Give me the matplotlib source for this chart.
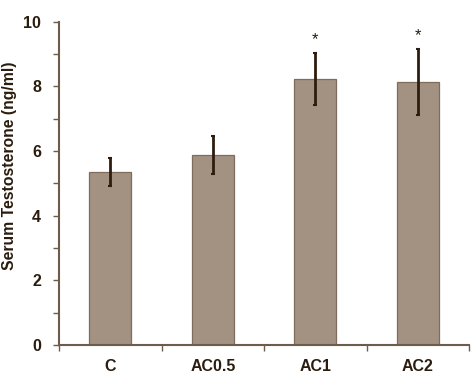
import numpy as np
import matplotlib.pyplot as plt

groups = ['C', 'AC0.5', 'AC1', 'AC2']
means = [5.35, 5.87, 8.23, 8.13]
errors = [0.44, 0.59, 0.80, 1.02]
signif = ['', '', '*', '*']

axis_col = '#6e5c4a'
text_col = '#2a1c0e'

plt.rcParams['font.family'] = ['Liberation Sans', 'DejaVu Sans']

fig = plt.figure(figsize=(4.72, 3.89), dpi=100)
ax = fig.add_axes([0.125, 0.113, 0.869, 0.831])

x = np.arange(len(groups))
ax.bar(x, means, width=0.41, color='#a39282', edgecolor='#7f6c5a', linewidth=0.9, zorder=2)
ax.errorbar(x, means, yerr=errors, fmt='none', ecolor='#2e1d0f', elinewidth=2.0,
            capsize=1.5, capthick=1.5, zorder=3)
for xi, m, e, s in zip(x, means, errors, signif):
    if s:
        ax.text(xi, m + e + 0.42, s, ha='center', va='center', fontsize=12, color=text_col)

ax.set_xlim(-0.5, len(groups) - 0.5)
ax.set_ylim(0, 10)
ax.set_yticks([0, 2, 4, 6, 8, 10])
ax.set_yticks([1, 3, 5, 7, 9], minor=True)
ax.set_xticks(x)
ax.set_xticklabels(groups)
ax.set_xticks(np.arange(len(groups) + 1) - 0.5, minor=True)
ax.tick_params(axis='x', which='major', length=0, pad=10, labelsize=11.5, labelcolor=text_col)
ax.tick_params(axis='x', which='minor', length=4, width=1, color=axis_col, direction='out')
ax.tick_params(axis='y', which='both', length=4, width=1, color=axis_col, direction='out',
               labelsize=11.5, labelcolor=text_col, pad=9)
for lab in ax.get_xticklabels() + ax.get_yticklabels():
    lab.set_fontweight('bold')

for side in ['top', 'right']:
    ax.spines[side].set_visible(False)
for side in ['left', 'bottom']:
    ax.spines[side].set_color(axis_col)
    ax.spines[side].set_linewidth(1.5)

fig.text(10 / 472, 1 - 166 / 389, 'Serum Testosterone (ng/ml)', rotation=90,
         ha='center', va='center', fontsize=11.3, fontweight='bold', color=text_col)

fig.savefig('out.png', dpi=100)
